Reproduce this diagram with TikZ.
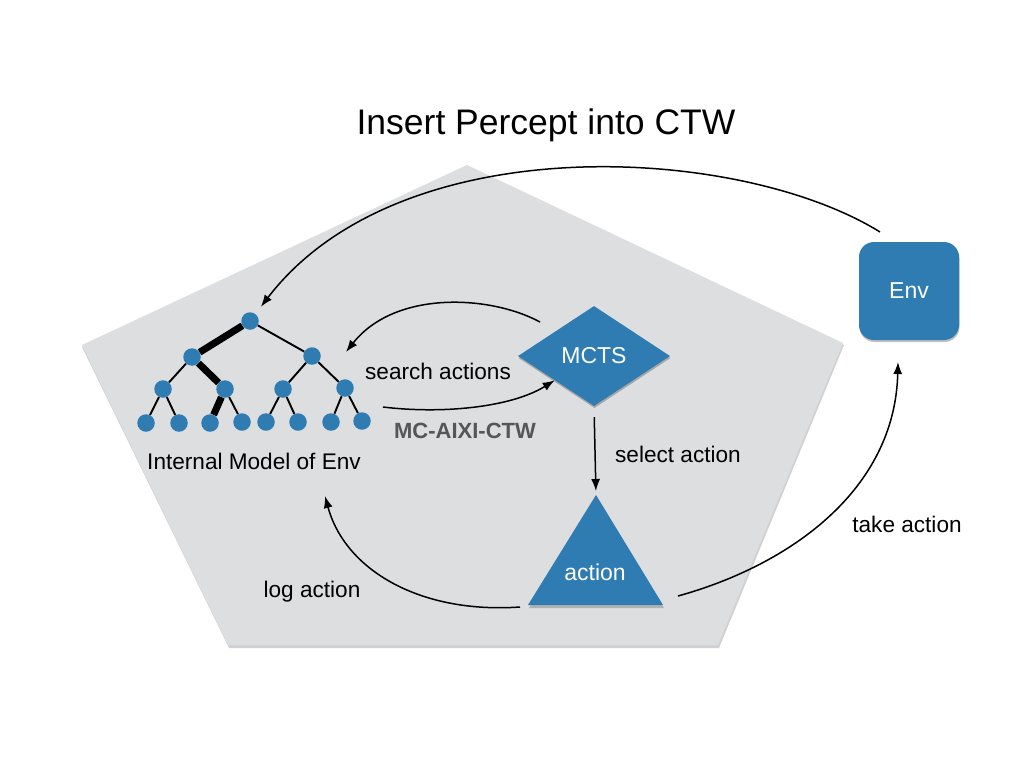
\documentclass[tikz,border=0pt]{standalone}
\usepackage{fontspec}
\setmainfont{Liberation Sans}
\usetikzlibrary{shapes.geometric,arrows.meta,shadows,calc}
\definecolor{nodeblue}{RGB}{46,124,178}
\definecolor{pentgrey}{RGB}{221,222,224}
\definecolor{labelgrey}{RGB}{85,86,90}
\begin{document}
\begin{tikzpicture}[x=1pt,y=-1pt,
  leaf/.style={circle,fill=nodeblue,minimum size=17.5pt,inner sep=0pt},
  thinedge/.style={line width=1.9pt},
  thickedge/.style={line width=7pt},
  conn/.style={line width=1.5pt,-{Latex[length=12pt,width=9pt]}},
  lbl/.style={font=\fontsize{22.6}{26}\selectfont,inner sep=0pt},
  innertext/.style={text=white,font=\fontsize{23}{27}\selectfont},
  softshadow/.style={drop shadow={shadow xshift=0.5pt,shadow yshift=-2pt,opacity=0.25,fill=black}},
  ]
\useasboundingbox (0,0) rectangle (1024,768);
\fill[white] (0,0) rectangle (1024,768);
% pentagon
\fill[black,opacity=0.18] (467,167) -- (844,345) -- (719,648) -- (229,648) -- (82,347) -- cycle;
\fill[pentgrey] (467,165) -- (843,343) -- (718,645) -- (228,645) -- (82,345) -- cycle;

% title
\node[font=\fontsize{35.5}{40}\selectfont] (title) at (546,125) {Insert Percept into CTW};

% tree
\node[leaf] (r) at (250,321) {};
\node[leaf] (a) at (192,357) {};
\node[leaf] (b) at (312,356) {};
\node[leaf] (aa) at (163,389) {};
\node[leaf] (ab) at (225,389) {};
\node[leaf] (ba) at (283,389) {};
\node[leaf] (bb) at (345,388) {};
\node[leaf] (aaa) at (146,423) {};
\node[leaf] (aab) at (179,423) {};
\node[leaf] (aba) at (210,423) {};
\node[leaf] (abb) at (242,422) {};
\node[leaf] (baa) at (266,422) {};
\node[leaf] (bab) at (298,422) {};
\node[leaf] (bba) at (331,422) {};
\node[leaf] (bbb) at (362,421) {};
\draw[thickedge] (r) -- (a);
\draw[thinedge] (r) -- (b);
\draw[thinedge] (a) -- (aa);
\draw[thickedge] (a) -- (ab);
\draw[thinedge] (b) -- (ba);
\draw[thinedge] (b) -- (bb);
\draw[thinedge] (aa) -- (aaa);
\draw[thinedge] (aa) -- (aab);
\draw[thickedge] (ab) -- (aba);
\draw[thinedge] (ab) -- (abb);
\draw[thinedge] (ba) -- (baa);
\draw[thinedge] (ba) -- (bab);
\draw[thinedge] (bb) -- (bba);
\draw[thinedge] (bb) -- (bbb);
\node[lbl] (model) at (254,461) {Internal Model of Env};

% MCTS diamond
\node[diamond,fill=nodeblue,minimum width=152pt,minimum height=100pt,inner sep=0pt,softshadow,innertext] (mcts) at (594,356) {MCTS};

% action triangle
\fill[black,opacity=0.2] (597,497) -- (664,608) -- (529,608) -- cycle;
\fill[nodeblue] (596,495) -- (663,605) -- (528,605) -- cycle;
\node[innertext] (action) at (595,572) {action};
\coordinate (apex) at (596,495);

% Env box
\node[rectangle,rounded corners=15pt,fill=nodeblue,minimum width=100pt,minimum height=98pt,softshadow,innertext] (env) at (909,291) {Env};

% coordinates for free ends
\coordinate (envtop) at (880,232);
\coordinate (srchS) at (540,322);
\coordinate (srchE) at (346,352);
\coordinate (treeOut) at (383,407);
\coordinate (logS) at (520,607);
\coordinate (logE) at (325,496);
\coordinate (takeS) at (678,596);
\coordinate (takeE) at (898,362);

% connectors
\draw[conn,shorten >=9pt] (envtop) .. controls (740,145) and (400,125) .. (r);
\draw[conn] (srchS) .. controls (490,295) and (395,290) .. (srchE);
\draw[conn] (treeOut) .. controls (440,414) and (510,408) .. (mcts);
\draw[conn,shorten <=11pt,shorten >=4pt] (mcts.south) -- (apex);
\draw[conn] (logS) .. controls (420,614) and (345,570) .. (logE);
\draw[conn] (takeS) .. controls (790,565) and (895,490) .. (takeE);

% labels
\node[lbl] (lsearch) at (438,371) {search actions};
\node[lbl,font=\fontsize{22}{26}\selectfont\bfseries,text=labelgrey] (lmc) at (465,431) {MC-AIXI-CTW};
\node[lbl] (lselect) at (678,454) {select action};
\node[lbl] (ltake) at (907,524) {take action};
\node[lbl] (llog) at (312,592) {log action};
\end{tikzpicture}
\end{document}
